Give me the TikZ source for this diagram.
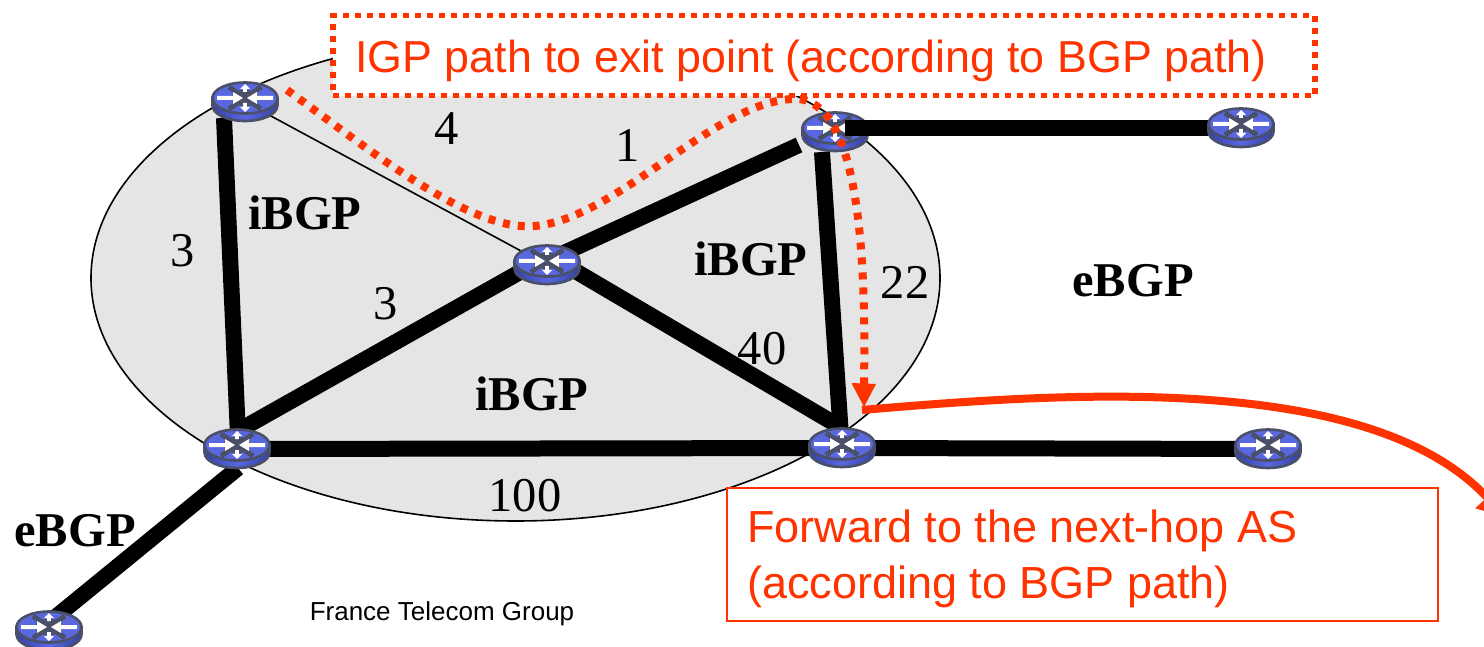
\documentclass[tikz,border=0pt]{standalone}
\usepackage{fontspec}
\usetikzlibrary{arrows.meta,shapes.geometric}
\setmainfont{Liberation Serif}
\newfontfamily\labelsans{Liberation Sans}
\definecolor{redlabel}{HTML}{FF3300}
\definecolor{routerdark}{HTML}{4A5068}
\definecolor{routerblue}{HTML}{5A68E0}
\definecolor{routerdeep}{HTML}{3440A8}
\newcommand{\bigfont}{\fontsize{48.5}{52}\selectfont}
\newcommand{\routerglyph}[1]{%
  \begin{scope}[shift={(#1)}]
    \path[draw=routerdark,line width=2.6pt,left color=routerdeep,right color=routerdeep,middle color=routerblue]
      (-32.5,-4) -- (-32.5,3.5) arc[start angle=180,end angle=0,x radius=32.5,y radius=15.5] -- (32.5,-4) -- cycle;
    \path[draw=routerdark,line width=2.6pt,fill=routerblue] (0,-4) ellipse[x radius=32.5,y radius=15.5];
    \draw[routerdark,line width=5pt] (-16,-15) -- (16,7) (16,-15) -- (-16,7);
    \fill[routerdark] (0,-4) ellipse[x radius=14,y radius=8];
    \fill[white] (-28,-6) -- (-12,-6) -- (-12,-10) -- (-2,-4) -- (-12,2) -- (-12,-2) -- (-28,-2) -- cycle;
    \fill[white] (28,-6) -- (12,-6) -- (12,-10) -- (2,-4) -- (12,2) -- (12,-2) -- (28,-2) -- cycle;
    \fill[white] (-1.8,-10) -- (-1.8,-13) -- (-5,-13) -- (0,-18) -- (5,-13) -- (1.8,-13) -- (1.8,-10) -- cycle;
    \fill[white] (-1.8,1) -- (-1.8,5) -- (-5,5) -- (0,10) -- (5,5) -- (1.8,5) -- (1.8,1) -- cycle;
  \end{scope}}
\tikzset{
  routerbox/.style={inner sep=0pt,minimum width=68pt,minimum height=40pt,draw=none,shape=rectangle},
  linkthick/.style={line width=16pt,black},
  linkthin/.style={line width=1.6pt,black},
  bgplabel/.style={font=\bigfont\bfseries,inner sep=0pt,anchor=center},
  costlabel/.style={font=\bigfont,inner sep=0pt,anchor=center},
  redbox/.style={draw=redlabel,fill=white,inner sep=0pt},
  redtext/.style={text=redlabel,inner sep=0pt,anchor=west},
  igppath/.style={draw=redlabel,line width=8pt,dash pattern=on 7pt off 8pt},
  exitpath/.style={draw=redlabel,line width=8pt,-{Triangle[length=28pt,width=30pt,fill=redlabel]}}
}
\begin{document}
\begin{tikzpicture}[x=1pt,y=-1pt]
\useasboundingbox (0,0) rectangle (1484,647);
\clip (0,0) rectangle (1484,647);
\node[draw=black,line width=1.6pt,fill=black!10,shape=ellipse,minimum width=849pt,minimum height=486pt,inner sep=0pt] (as) at (515.5,278) {};

\node[routerbox] (r1) at (245,102) {};
\node[routerbox] (r2) at (835,132) {};
\node[routerbox] (r3) at (237,449) {};
\node[routerbox] (r4) at (547,265) {};
\node[routerbox] (r5) at (842,448) {};
\node[routerbox] (r6) at (1241,128) {};
\node[routerbox] (r7) at (1268,449) {};
\node[routerbox] (r8) at (49,631) {};

\coordinate (r1foot) at (224,118);
\coordinate (r3top) at (238,436);
\coordinate (r4left) at (520,272);
\coordinate (r4up) at (553,258);
\coordinate (r2left) at (799,145);
\coordinate (r2foot) at (822,152);
\coordinate (r5top) at (841,436);
\coordinate (r4right) at (577,272);
\coordinate (r5left) at (842,428);
\coordinate (r3right) at (236,432);
\coordinate (r3low) at (238,468);
\coordinate (r8top) at (52,620);
\coordinate (r2east) at (845,128);

\draw[linkthin] (r1.center) -- (r4.center);
\draw[linkthick] (r1foot) -- (r3top);
\draw[linkthick] (r3right) -- (r4left);
\draw[linkthick] (r4up) -- (r2left);
\draw[linkthick] (r4right) -- (r5left);
\draw[linkthick] (r2foot) -- (r5top);
\draw[linkthick] (r3.center) -- (r5.center);
\draw[linkthick] (r5.center) -- (r7.center);
\draw[linkthick] (r3low) -- (r8top);

\routerglyph{245,102}
\routerglyph{835,132}
\routerglyph{237,449}
\routerglyph{547,265}
\routerglyph{842,448}
\routerglyph{1268,449}
\routerglyph{49,631}

\draw[linkthick] (r2east) -- (r6.center);
\routerglyph{1241,128}

\node[bgplabel] (l1) at (305,213) {iBGP};
\node[bgplabel] (l2) at (751,259) {iBGP};
\node[bgplabel] (l3) at (532,394) {iBGP};
\node[bgplabel] (l4) at (1133,281) {eBGP};
\node[bgplabel] (l5) at (75,531) {eBGP};
\node[costlabel] (c1) at (447,129) {4};
\node[costlabel] (c2) at (628,145) {1};
\node[costlabel] (c3) at (183,251) {3};
\node[costlabel] (c4) at (386,304) {3};
\node[costlabel] (c5) at (905,282) {22};
\node[costlabel] (c6) at (762,349) {40};
\node[costlabel] (c7) at (525,496) {100};
\node[inner sep=0pt,anchor=center,font=\labelsans\fontsize{26}{30}\selectfont] (ft) at (442,614) {France Telecom Group};

\coordinate (exitstart) at (862,410);
\coordinate (exitend) at (1506,518);
\draw[exitpath] (exitstart) .. controls (1060,393) and (1370,370) .. (exitend);

\node[redbox,line width=2.2pt,minimum width=711pt,minimum height=133pt,anchor=north west] (forward) at (726,487) {};
\node[redtext,align=left,anchor=north west,font=\labelsans\fontsize{45}{56}\selectfont] (forwardtext) at (747,510) {Forward to the next-hop AS\\(according to BGP path)};

\node[redbox,line width=5.5pt,dash pattern=on 6pt off 6pt,minimum width=982pt,minimum height=80pt,anchor=north west] (igp) at (330,13) {};
\node[redtext,font=\labelsans\fontsize{44.8}{50}\selectfont] (igptext) at (355,61) {IGP path to exit point (according to BGP path)};

\coordinate (igpstart) at (287,90);
\coordinate (igpend) at (864,407);
\path[igppath] (igpstart) .. controls (370,150) and (470,232) .. (535,226)
  .. controls (620,218) and (720,95) .. (800,99)
  .. controls (860,108) and (866,260) .. (864,385);
\fill[redlabel] (851.5,383) -- (876,384) -- (igpend) -- cycle;
\end{tikzpicture}
\end{document}
